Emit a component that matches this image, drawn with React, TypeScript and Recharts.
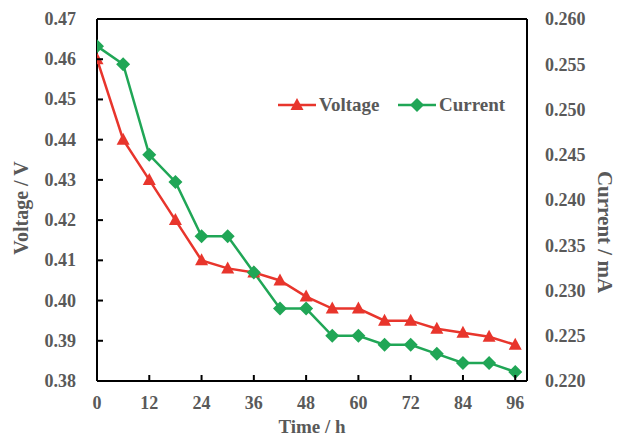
import React from 'react';
import { LineChart, Line, XAxis, YAxis, Legend, ReferenceLine, Label } from 'recharts';

const hours = [0, 6, 12, 18, 24, 30, 36, 42, 48, 54, 60, 66, 72, 78, 84, 90, 96];
const voltage = [0.46, 0.44, 0.43, 0.42, 0.41, 0.408, 0.407, 0.405, 0.401, 0.398, 0.398, 0.395, 0.395, 0.393, 0.392, 0.391, 0.389];
const current = [0.257, 0.255, 0.245, 0.242, 0.236, 0.236, 0.232, 0.228, 0.228, 0.225, 0.225, 0.224, 0.224, 0.223, 0.222, 0.222, 0.221];

const xTicks = [0, 12, 24, 36, 48, 60, 72, 84, 96];
const voltTicks = [0.38, 0.39, 0.4, 0.41, 0.42, 0.43, 0.44, 0.45, 0.46, 0.47];
const currTicks = [0.22, 0.225, 0.23, 0.235, 0.24, 0.245, 0.25, 0.255, 0.26];

const data = hours.map((h, i) => ({ h, voltage: voltage[i], current: current[i] }));

const RED = '#e8352c';
const GREEN = '#20a656';
const GRAY = '#595959';
const FONT = '"Liberation Serif", "Times New Roman", serif';

const tickStyle = { fill: GRAY, fontSize: 18, fontWeight: 700, fontFamily: FONT };
const titleStyle = { fill: GRAY, fontSize: 19, fontWeight: 700, fontFamily: FONT };

const triangle = (cx: number, cy: number, color: string, key?: any) => (
    <polygon key={key} points={`${cx},${cy - 7} ${cx - 6.5},${cy + 5} ${cx + 6.5},${cy + 5}`} fill={color} />
);

const diamond = (cx: number, cy: number, color: string, key?: any) => (
    <polygon key={key} points={`${cx},${cy - 7} ${cx + 7},${cy} ${cx},${cy + 7} ${cx - 7},${cy}`} fill={color} />
);

// inward tick marks drawn by hand, label outside
const BottomTick = (p: any) => (
    <g>
        <line x1={p.x} y1={p.y} x2={p.x} y2={p.y - 6} stroke="#000" strokeWidth={2} />
        <text x={p.x} y={p.y + 22} textAnchor="middle" dominantBaseline="central" style={tickStyle}>
            {p.payload.value}
        </text>
    </g>
);

const LeftTick = (p: any) => (
    <g>
        <line x1={p.x} y1={p.y} x2={p.x + 6} y2={p.y} stroke="#000" strokeWidth={2} />
        <text x={p.x - 21} y={p.y} textAnchor="end" dominantBaseline="central" style={tickStyle}>
            {Number(p.payload.value).toFixed(2)}
        </text>
    </g>
);

const LegendBox = () => {
    const item = (label: string, color: string, marker: 'tri' | 'dia', width: number) => (
        <div style={{ display: 'flex', alignItems: 'center', width }}>
            <svg width={38} height={16}>
                <line x1={0} y1={8} x2={38} y2={8} stroke={color} strokeWidth={2.5} />
                {marker === 'tri' ? triangle(19, 8, color) : diamond(19, 8, color)}
            </svg>
            <span style={{ marginLeft: 3, color: GRAY, fontSize: 19, fontWeight: 700, fontFamily: FONT }}>{label}</span>
        </div>
    );
    return (
        <div style={{ display: 'flex' }}>
            {item('Voltage', RED, 'tri', 120)}
            {item('Current', GREEN, 'dia', 120)}
        </div>
    );
};

export default function App() {
    return (
        <div style={{ position: 'absolute', left: 0, top: 0, background: '#fff' }}>
            <LineChart width={617} height={437} data={data} margin={{ top: 19, right: 0, bottom: 0, left: 0 }}>
                <XAxis
                    dataKey="h"
                    type="number"
                    domain={[0, 98.7]}
                    ticks={xTicks}
                    height={56}
                    tickSize={0}
                    tickMargin={0}
                    tickLine={false}
                    tick={<BottomTick />}
                    axisLine={{ stroke: '#000', strokeWidth: 2 }}
                    allowDataOverflow
                >
                    <Label value="Time / h" position="center" dy={17} style={titleStyle} />
                </XAxis>
                <YAxis
                    yAxisId="left"
                    width={97}
                    domain={[0.38, 0.47]}
                    ticks={voltTicks}
                    tickSize={0}
                    tickMargin={0}
                    tickLine={false}
                    tick={<LeftTick />}
                    axisLine={{ stroke: '#000', strokeWidth: 2 }}
                    allowDataOverflow
                >
                    <Label value="Voltage / V" angle={-90} position="center" dx={-28} dy={8} style={{ ...titleStyle, fontSize: 20 }} />
                </YAxis>
                <YAxis
                    yAxisId="right"
                    orientation="right"
                    width={90}
                    domain={[0.22, 0.26]}
                    ticks={currTicks}
                    tickFormatter={(v: number) => v.toFixed(3)}
                    tickSize={0}
                    tickMargin={18}
                    tickLine={false}
                    tick={tickStyle}
                    axisLine={{ stroke: '#000', strokeWidth: 2 }}
                    allowDataOverflow
                >
                    <Label value="Current / mA" angle={90} position="center" dx={33} dy={32} style={{ ...titleStyle, fontSize: 21 }} />
                </YAxis>
                <ReferenceLine yAxisId="left" y={0.47} stroke="#000" strokeWidth={2} />
                <Legend
                    verticalAlign="middle"
                    content={() => <LegendBox />}
                    wrapperStyle={{ top: 94, left: 278, width: 250 }}
                />
                <Line
                    yAxisId="left"
                    dataKey="voltage"
                    stroke={RED}
                    strokeWidth={2.5}
                    isAnimationActive={false}
                    dot={(p: any) => triangle(p.cx, p.cy, RED, p.index)}
                    activeDot={false}
                />
                <Line
                    yAxisId="right"
                    dataKey="current"
                    stroke={GREEN}
                    strokeWidth={2.5}
                    isAnimationActive={false}
                    dot={(p: any) => diamond(p.cx, p.cy, GREEN, p.index)}
                    activeDot={false}
                />
            </LineChart>
        </div>
    );
}
